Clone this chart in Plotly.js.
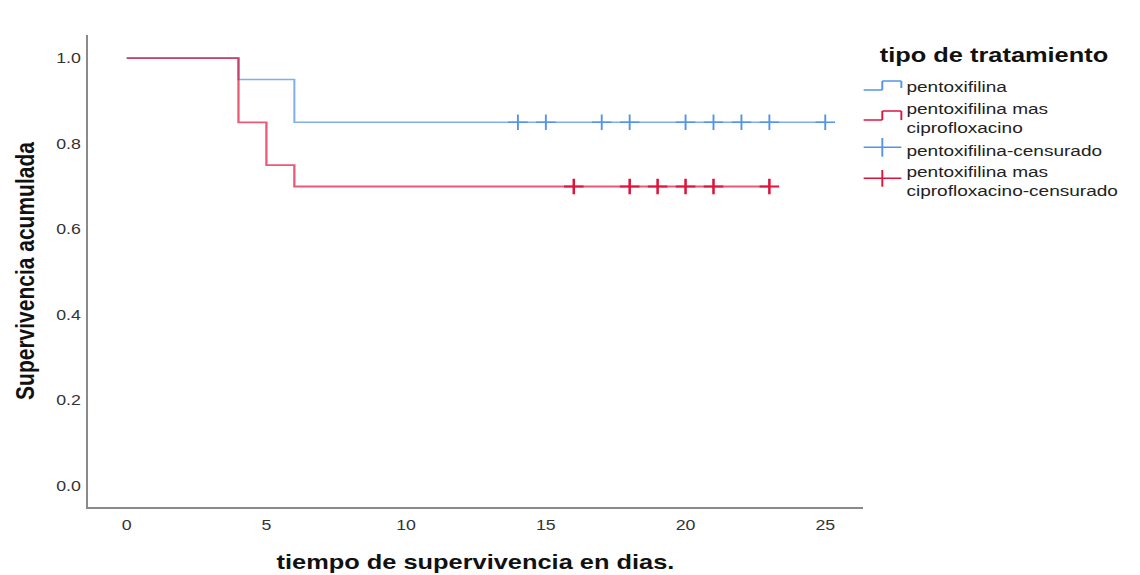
<!DOCTYPE html>
<html>
<head>
<meta charset="utf-8">
<script src="https://cdn.plot.ly/plotly-3.0.1.min.js"></script>
<style>
html,body{margin:0;padding:0;background:#fff;overflow:hidden;}
#wrap{width:898px;height:575px;transform:scaleX(1.2695);transform-origin:0 0;}
#chart{width:898px;height:575px;}
</style>
</head>
<body>
<div id="wrap"><div id="chart"></div></div>
<script>
// Kaplan-Meier data
const pentoxTime = [0, 4, 6, 25];
const pentoxSurv = [1.0, 0.95, 0.85, 0.85];
const comboTime = [0, 4, 5, 6, 23];
const comboSurv = [1.0, 0.85, 0.75, 0.70, 0.70];
const pentoxCensTime = [14, 15, 17, 18, 20, 21, 22, 23, 25];
const pentoxCensSurv = [0.85, 0.85, 0.85, 0.85, 0.85, 0.85, 0.85, 0.85, 0.85];
const comboCensTime = [16, 18, 19, 20, 21, 23];
const comboCensSurv = [0.70, 0.70, 0.70, 0.70, 0.70, 0.70];
const seriesNames = ['pentoxifilina', 'pentoxifilina mas<br>ciprofloxacino',
  'pentoxifilina-censurado', 'pentoxifilina mas<br>ciprofloxacino-censurado'];
const legendTitle = 'tipo de tratamiento';
const xTicks = [0, 5, 10, 15, 20, 25];
const yTicks = [0, 0.2, 0.4, 0.6, 0.8, 1.0];

const BLUE = 'rgb(84,148,230)';
const RED = 'rgb(222,20,60)';
const FONT = 'Liberation Sans, Arial, sans-serif';

const traces = [
  {x: pentoxTime, y: pentoxSurv, mode: 'lines', name: seriesNames[0],
   line: {shape: 'hv', color: BLUE, width: 1.6}, opacity: 0.75, showlegend: false},
  {x: comboTime, y: comboSurv, mode: 'lines', name: seriesNames[1],
   line: {shape: 'hv', color: RED, width: 1.8}, opacity: 0.7, showlegend: false},
  {x: pentoxCensTime, y: pentoxCensSurv, mode: 'markers', name: seriesNames[2],
   marker: {symbol: 'cross-thin', size: 11, line: {color: BLUE, width: 1.5}}, showlegend: false},
  {x: comboCensTime, y: comboCensSurv, mode: 'markers', name: seriesNames[3],
   marker: {symbol: 'cross-thin', size: 11, line: {color: RED, width: 2}}, showlegend: false}
];

// custom legend (inner pixel coords -> paper coords)
const L = 69, PW = 611, T = 35, PH = 472;
const px = v => (v - L) / PW;
const py = v => (T + PH - v) / PH;
function seg(x0, y0, x1, y1, c, w) {
  return {type: 'line', xref: 'paper', yref: 'paper', x0: px(x0), y0: py(y0), x1: px(x1), y1: py(y1),
          line: {color: c, width: w || 1.5}};
}
const shapes = [
  seg(680.3, 90, 695, 90, BLUE), seg(695, 90, 695, 81, BLUE), seg(695, 81, 710, 81, BLUE), seg(710, 81, 710, 88, BLUE),
  seg(680.3, 120, 695, 120, RED), seg(695, 120, 695, 111, RED), seg(695, 111, 710, 111, RED), seg(710, 111, 710, 120, RED),
  seg(680.3, 147.3, 710, 147.3, BLUE), seg(695, 138, 695, 156.7, BLUE),
  seg(680.3, 178.3, 710, 178.3, RED), seg(695, 170, 695, 186.7, RED)
];
function txt(t, x, y, size, bold, color) {
  return {text: t, xref: 'paper', yref: 'paper', x: px(x), y: py(y), xanchor: 'left', yanchor: 'middle',
          align: 'left', borderpad: 0, showarrow: false,
          font: {family: FONT, size: size, color: color || '#222', weight: bold ? 'bold' : 'normal'}};
}
const annotations = [
  txt(legendTitle, 692, 55, 20, true, '#111'),
  txt(seriesNames[0], 713, 86.7, 15),
  txt(seriesNames[1], 713, 119, 15),
  txt(seriesNames[2], 713, 150, 15),
  txt(seriesNames[3], 713, 181.5, 15)
];

const layout = {
  width: 898, height: 575,
  margin: {l: L, r: 898 - L - PW, t: T, b: 575 - T - PH},
  paper_bgcolor: '#fff', plot_bgcolor: '#fff',
  font: {family: FONT, size: 14, color: '#333'},
  showlegend: false,
  xaxis: {
    range: [-1.4, 26.36], tickvals: xTicks, ticktext: xTicks.map(String),
    showgrid: false, zeroline: false, showline: true, linecolor: '#8a8a8a', linewidth: 1.5,
    ticks: 'outside', ticklen: 5, tickcolor: 'rgba(0,0,0,0)',
    tickfont: {family: FONT, size: 14, color: '#333'},
    title: {text: 'tiempo de supervivencia en dias.', standoff: 22,
            font: {family: FONT, size: 20, color: '#111', weight: 'bold'}}
  },
  yaxis: {
    range: [-0.049, 1.054], tickvals: yTicks, ticktext: yTicks.map(v => v.toFixed(1)),
    showgrid: false, zeroline: false, showline: true, linecolor: '#8a8a8a', linewidth: 1.5,
    ticks: 'outside', ticklen: 1, tickcolor: 'rgba(0,0,0,0)',
    tickfont: {family: FONT, size: 14, color: '#333'},
    title: {text: 'Supervivencia acumulada', standoff: 11,
            font: {family: FONT, size: 21, color: '#111', weight: 'bold'}}
  },
  shapes: shapes,
  annotations: annotations
};

Plotly.newPlot('chart', traces, layout, {displayModeBar: false, staticPlot: true});
</script>
</body>
</html>
